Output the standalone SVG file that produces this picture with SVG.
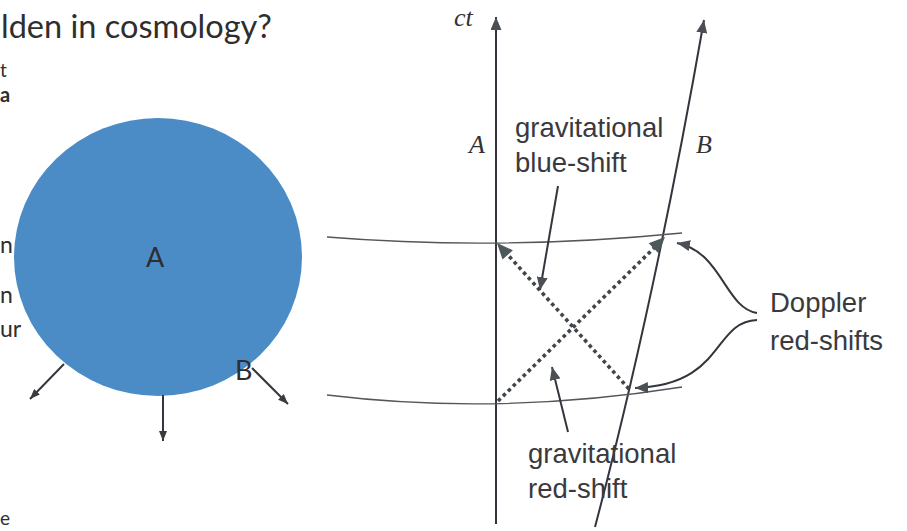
<svg xmlns="http://www.w3.org/2000/svg" width="907" height="531" viewBox="0 0 907 531">
<style>
.gill{font-family:Lato,"Open Sans",sans-serif;fill:#2e2e2e}
.helv{font-family:"Liberation Sans",Arial,sans-serif;fill:#3a3a3e;font-size:27.5px}
.ital{font-family:"Liberation Serif","Times New Roman",serif;font-style:italic;fill:#333;font-size:26px}
.ln{stroke:#35353d;stroke-width:2;fill:none}
.thin{stroke:#55555a;stroke-width:1.3;fill:none}
.dot{stroke:#40464c;stroke-width:3.6;stroke-dasharray:3.6 3.4;fill:none}
.head{fill:#4d585c}
</style>
<defs>
<marker id="ahS" markerUnits="userSpaceOnUse" viewBox="0 0 10 8" refX="10" refY="4" markerWidth="10" markerHeight="8" orient="auto"><path d="M0,0 L10,4 L0,8 z" fill="#3a3a40"/></marker>
<marker id="ahM" markerUnits="userSpaceOnUse" viewBox="0 0 13 11" refX="13" refY="5.5" markerWidth="13" markerHeight="11" orient="auto"><path d="M0,0 L13,5.5 L0,11 z" fill="#4a4f55"/></marker>
</defs>
<rect width="907" height="531" fill="#fff"/>
<g id="left-text">
<text class="gill" x="1" y="38" font-size="32.5">lden in cosmology?</text>
<text class="gill" x="0" y="77" font-size="19">t</text>
<text class="gill" x="0" y="102" font-size="20" font-weight="bold">a</text>
<text class="gill" x="0" y="253" font-size="23">n</text>
<text class="gill" x="0" y="303" font-size="23">n</text>
<text class="gill" x="0" y="337" font-size="23">ur</text>
<text class="gill" x="0" y="525" font-size="19">e</text>
</g>
<g id="sphere">
<ellipse cx="158" cy="257" rx="144" ry="139" fill="#4b8cc7"/>
<text class="gill" x="146" y="267" font-size="27">A</text>
<text class="gill" x="235" y="380" font-size="27">B</text>
</g>
<g id="sphere-arrows">
<line class="ln" x1="64" y1="364" x2="30" y2="399" stroke-width="1.4" marker-end="url(#ahS)"/>
<line class="ln" x1="163" y1="395" x2="163" y2="441" stroke-width="1.4" marker-end="url(#ahS)"/>
<line class="ln" x1="252" y1="368" x2="288" y2="404" stroke-width="1.4" marker-end="url(#ahS)"/>
</g>
<g id="worldline-A">
<line class="ln" x1="496" y1="524" x2="496" y2="17" marker-end="url(#ahM)"/>
<text class="ital" x="454" y="26">ct</text>
<text class="ital" x="469" y="153">A</text>
</g>
<g id="worldline-B">
<path class="ln" d="M595,527 Q655,300 704,20" marker-end="url(#ahM)"/>
<text class="ital" x="696" y="153">B</text>
</g>
<g id="surfaces">
<path class="thin" d="M327,237 Q500,251 682,233"/>
<path class="thin" d="M327,395 Q500,416 682,387"/>
</g>
<g id="signals">
<line class="dot" x1="498" y1="401" x2="654" y2="248"/>
<polygon class="head" points="665,237 658.5,253.2 648.7,243.2"/>
<line class="dot" x1="629" y1="389" x2="508" y2="255"/>
<polygon class="head" points="497,243 512.9,250.2 502.5,259.6"/>
</g>
<g id="label-blue">
<text class="helv" x="515" y="137">gravitational</text>
<text class="helv" x="515" y="172">blue-shift</text>
<line class="ln" x1="558" y1="186" x2="540" y2="290" stroke-width="1.8" marker-end="url(#ahM)"/>
</g>
<g id="label-red">
<line class="ln" x1="568" y1="432" x2="552" y2="367" stroke-width="1.8" marker-end="url(#ahM)"/>
<text class="helv" x="528" y="463">gravitational</text>
<text class="helv" x="528" y="498">red-shift</text>
</g>
<g id="label-doppler">
<path class="ln" d="M757,313 C725,308 722,252 677,243" stroke-width="1.8" marker-end="url(#ahM)"/>
<path class="ln" d="M757,320 C712,322 725,385 635,388" stroke-width="1.8" marker-end="url(#ahM)"/>
<text class="helv" x="770" y="312">Doppler</text>
<text class="helv" x="770" y="350">red-shifts</text>
</g>
</svg>
